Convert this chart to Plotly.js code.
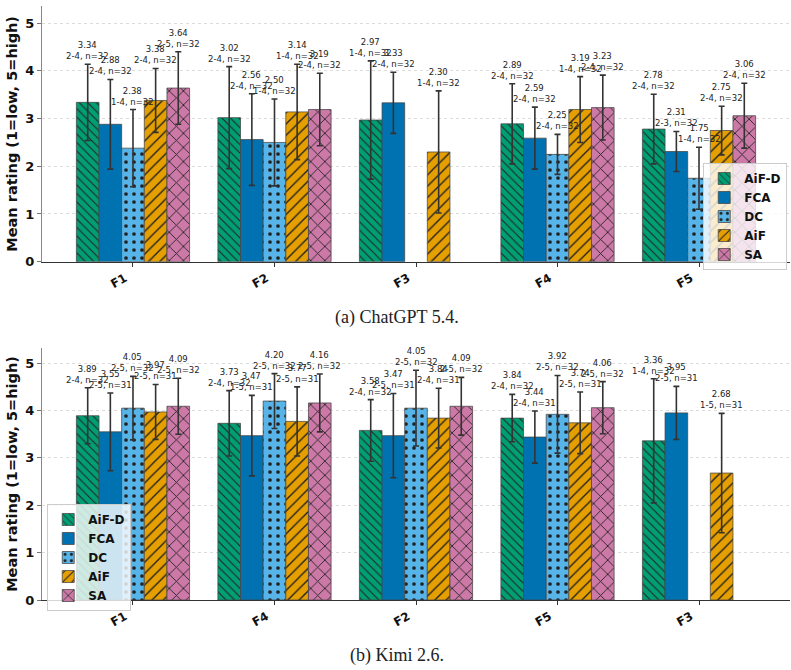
<!DOCTYPE html>
<html>
<head>
<meta charset="utf-8">
<script src="https://cdn.plot.ly/plotly-3.0.1.min.js"></script>
<style>
  html, body { margin: 0; padding: 0; background: #fff; }
  #chart { width: 791px; height: 670px; }
</style>
</head>
<body>
<div id="chart"></div>
<script>
// Series shared by both panels
const seriesNames = ['AiF-D', 'FCA', 'DC', 'AiF', 'SA'];
const seriesColors = ['#009E73', '#0072B2', '#56B4E9', '#E69F00', '#CC79A7'];
const seriesPatterns = ['\\', '', '.', '/', 'x'];

// (a) ChatGPT 5.4 — rows follow seriesNames, columns follow gptCats
const gptCats = ['F1', 'F2', 'F3', 'F4', 'F5'];
const gptMeans = [
  [3.34, 3.02, 2.97, 2.89, 2.78],
  [2.88, 2.56, 3.33, 2.59, 2.31],
  [2.38, 2.50, null, 2.25, 1.75],
  [3.38, 3.14, 2.30, 3.19, 2.75],
  [3.64, 3.19, null, 3.23, 3.06]
];
const gptSd = [
  [0.80, 1.07, 1.24, 0.84, 0.73],
  [0.94, 0.96, 0.64, 0.65, 0.42],
  [0.81, 0.91, null, 0.42, 0.65],
  [0.67, 1.00, 1.28, 0.69, 0.51],
  [0.76, 0.76, null, 0.68, 0.68]
];
const gptRanges = [
  ['2-4', '2-4', '1-4', '2-4', '2-4'],
  ['2-4', '2-4', '2-4', '2-4', '2-3'],
  ['1-4', '1-4', null, '2-4', '1-4'],
  ['2-4', '1-4', '1-4', '1-4', '2-4'],
  ['2-5', '2-4', null, '2-4', '2-4']
];
const gptN = [
  [32, 32, 32, 32, 32],
  [32, 32, 32, 32, 32],
  [32, 32, null, 32, 32],
  [32, 32, 32, 32, 32],
  [32, 32, null, 32, 32]
];

// (b) Kimi 2.6
const kimiCats = ['F1', 'F4', 'F2', 'F5', 'F3'];
const kimiMeans = [
  [3.89, 3.73, 3.58, 3.84, 3.36],
  [3.55, 3.47, 3.47, 3.44, 3.95],
  [4.05, 4.20, 4.05, 3.92, null],
  [3.97, 3.77, 3.84, 3.74, 2.68],
  [4.09, 4.16, 4.09, 4.06, null]
];
const kimiSd = [
  [0.59, 0.69, 0.65, 0.50, 1.31],
  [0.82, 0.85, 0.89, 0.55, 0.56],
  [0.67, 0.58, 0.80, 0.82, null],
  [0.58, 0.73, 0.63, 0.65, 1.26],
  [0.59, 0.61, 0.61, 0.55, null]
];
const kimiRanges = [
  ['2-4', '2-4', '2-4', '2-4', '1-4'],
  ['2-5', '1-5', '2-5', '2-4', '2-5'],
  ['2-5', '2-5', '2-5', '2-5', null],
  ['2-5', '2-5', '2-4', '2-5', '1-5'],
  ['2-5', '2-5', '2-5', '2-5', null]
];
const kimiN = [
  [32, 32, 32, 32, 32],
  [31, 31, 31, 31, 31],
  [32, 32, 32, 32, null],
  [31, 31, 31, 31, 31],
  [32, 32, 32, 32, null]
];

const BAR_W = 0.16;
const FONT = 'DejaVu Sans, sans-serif';
const patternSize = [6, 8, 8, 8, 10];

const traces = [];
const annotations = [];

function addPanel(cats, means, sds, ranges, ns, xa, ya, legendId) {
  seriesNames.forEach((name, s) => {
    const offset = (s - 2) * BAR_W;
    const xs = [], ys = [], es = [];
    cats.forEach((c, i) => {
      if (means[s][i] === null) return;
      xs.push(i + offset);
      ys.push(means[s][i]);
      es.push(sds[s][i]);
      annotations.push({
        xref: xa, yref: ya,
        x: i + offset, y: means[s][i] + sds[s][i],
        yanchor: 'bottom', xanchor: 'center', yshift: 1,
        showarrow: false,
        text: means[s][i].toFixed(2) + '<br>' + ranges[s][i] + ', n=' + ns[s][i],
        font: { family: FONT, size: 8.5, color: '#222' }
      });
    });
    traces.push({
      type: 'bar',
      name: name,
      x: xs, y: ys, width: BAR_W,
      xaxis: xa, yaxis: ya,
      legend: legendId,
      marker: {
        color: seriesColors[s],
        line: { color: 'rgba(70,70,70,0.75)', width: 1 },
        pattern: {
          shape: seriesPatterns[s],
          fgcolor: '#222',
          bgcolor: seriesColors[s],
          size: patternSize[s],
          solidity: 0.17,
          fillmode: 'replace'
        }
      },
      error_y: { type: 'data', array: es, visible: true, color: '#333', thickness: 1.6, width: 3 },
      hoverinfo: 'skip'
    });
  });
}

addPanel(gptCats, gptMeans, gptSd, gptRanges, gptN, 'x', 'y', 'legend');
addPanel(kimiCats, kimiMeans, kimiSd, kimiRanges, kimiN, 'x2', 'y2', 'legend2');

// Panel captions
const captionFont = { family: 'Liberation Serif, Times New Roman, serif', size: 18, color: '#222' };
annotations.push({
  xref: 'paper', yref: 'paper', x: (397 - 42) / 748, y: 1 - 317 / 670, xanchor: 'center', yanchor: 'middle',
  showarrow: false, text: '(a) ChatGPT 5.4.', font: captionFont
});
annotations.push({
  xref: 'paper', yref: 'paper', x: (397 - 42) / 748, y: 1 - 655 / 670, xanchor: 'center', yanchor: 'middle',
  showarrow: false, text: '(b) Kimi 2.6.', font: captionFont
});

function xAxis(cats, anchor) {
  return {
    anchor: anchor,
    range: [-0.643, 4.643],
    tickvals: cats.map((c, i) => i),
    ticktext: cats,
    tickangle: -30,
    ticklabelshift: -8,
    tickfont: { family: FONT, size: 12, color: '#111', weight: 'bold' },
    ticks: 'outside', ticklen: 4, tickcolor: '#333',
    showline: true, linecolor: '#333', linewidth: 1,
    showgrid: false, zeroline: false, fixedrange: true
  };
}
function yAxis(domain, top, anchor) {
  return {
    anchor: anchor,
    domain: domain,
    range: [0, top],
    dtick: 1, tick0: 0,
    tickfont: { family: FONT, size: 13, color: '#111', weight: 'bold' },
    ticks: 'outside', ticklen: 4, tickcolor: '#777',
    showline: true, linecolor: '#888', linewidth: 1,
    showgrid: true, gridcolor: '#dcdcdc', griddash: 'dot', gridwidth: 1,
    zeroline: false, automargin: false,
    title: { text: 'Mean rating (1=low, 5=high)', standoff: 4,
             font: { family: FONT, size: 14.5, color: '#111', weight: 'bold' } }
  };
}

const legendBase = {
  bgcolor: 'rgba(255,255,255,0.8)', bordercolor: '#cccccc', borderwidth: 1,
  font: { family: FONT, size: 12, color: '#111', weight: 'bold' },
  xref: 'paper', yref: 'paper', xanchor: 'left', yanchor: 'top',
  tracegroupgap: 0, itemwidth: 30
};

const layout = {
  width: 791, height: 670,
  margin: { l: 42, r: 1, t: 0, b: 0 },
  paper_bgcolor: '#fff', plot_bgcolor: '#fff',
  barmode: 'overlay',
  showlegend: true,
  xaxis: xAxis(gptCats, 'y'),
  yaxis: yAxis([1 - 261.7 / 670, 1 - 6 / 670], 5.36, 'x'),
  xaxis2: xAxis(kimiCats, 'y2'),
  yaxis2: yAxis([1 - 600 / 670, 1 - 348 / 670], 5.32, 'x2'),
  legend: Object.assign({}, legendBase, { x: 0.884, y: 1 - 163 / 670 }),
  legend2: Object.assign({}, legendBase, { x: 0.007, y: 1 - 504 / 670 }),
  annotations: annotations
};

Plotly.newPlot('chart', traces, layout, { displayModeBar: false, staticPlot: true });
</script>
</body>
</html>
